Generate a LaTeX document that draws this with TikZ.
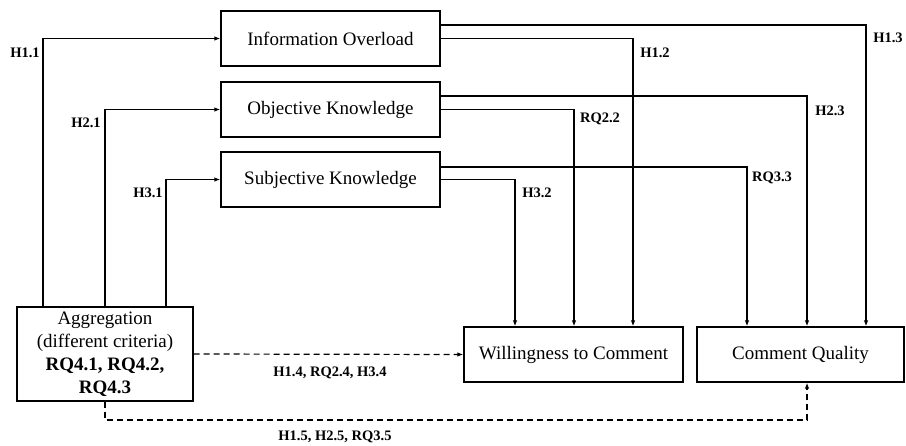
\documentclass[tikz,border=0pt]{standalone}
\usepackage{fontspec}
\setmainfont{Liberation Serif}
\usetikzlibrary{arrows.meta}
\begin{document}
\begin{tikzpicture}[x=1pt,y=-1pt,
  box/.style={draw,line width=1.3pt,minimum width=219pt,minimum height=55pt,inner sep=0pt,font=\fontsize{19}{23}\selectfont},
  lbl/.style={font=\fontsize{14.5}{17}\selectfont\bfseries,inner sep=0pt},
  arr/.style={line width=1.2pt,-{Latex[length=6pt,width=4.5pt]}},
  darr/.style={arr,dash pattern=on 6pt off 4pt}]
\useasboundingbox (0,0) rectangle (906,445);
\node[box] (io) at (330.5,38.5) {Information Overload};
\node[box] (ok) at (330.5,109.5) {Objective Knowledge};
\node[box] (sk) at (330.5,179.5) {Subjective Knowledge};
\node[box,minimum width=176pt,minimum height=94pt,align=center] (ag) at (105,354)
  {Aggregation\\(different criteria)\\\textbf{RQ4.1, RQ4.2,}\\\textbf{RQ4.3}};
\node[box] (wc) at (573.5,354.5) {Willingness to Comment};
\node[box,minimum width=207pt] (cq) at (800.5,354.5) {Comment Quality};
% from aggregation to mediators
\draw[arr] (ag.north -| 43,0) |- (io.west);
\draw[arr] (ag.north -| 105,0) |- (ok.west);
\draw[arr] (ag.north -| 166,0) |- (sk.west);
% mediators to outcomes
\draw[arr] ([yshift=13.5pt]io.east) -| (cq.north -| 866,0);
\draw[arr] (io.east) -| (wc.north -| 633,0);
\draw[arr] ([yshift=13.5pt]ok.east) -| (cq.north -| 807,0);
\draw[arr] (ok.east) -| (wc.north -| 574,0);
\draw[arr] ([yshift=12.5pt]sk.east) -| (cq.north -| 747,0);
\draw[arr] (sk.east) -| (wc.north -| 515,0);
% direct effects
\draw[darr] (ag.east) -- (wc.west);
\coordinate (low) at (105,420);
\draw[darr] (ag.south) -- (low) -| (cq.south -| 807,0);
% labels
\node[lbl] (l11) at (25,53) {H1.1};
\node[lbl] (l21) at (86,123) {H2.1};
\node[lbl] (l31) at (148,193) {H3.1};
\node[lbl] (l12) at (655,53) {H1.2};
\node[lbl] (l13) at (888,38) {H1.3};
\node[lbl] (l22) at (600,119) {RQ2.2};
\node[lbl] (l23) at (830,111) {H2.3};
\node[lbl] (l33) at (772,178) {RQ3.3};
\node[lbl] (l32) at (537,193) {H3.2};
\node[lbl] (l14) at (330,373) {H1.4, RQ2.4, H3.4};
\node[lbl] (l15) at (335,437) {H1.5, H2.5, RQ3.5};
\end{tikzpicture}
\end{document}
